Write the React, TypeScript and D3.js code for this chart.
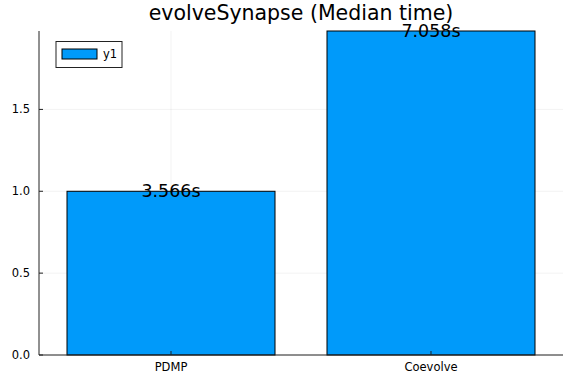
import React from "react";
import * as d3 from "d3";

const categories = ["PDMP", "Coevolve"];
const values = [1.0, 1.979];
const barLabels = ["3.566s", "7.058s"];
const yTicks = [0.0, 0.5, 1.0, 1.5];
const title = "evolveSynapse (Median time)";
const seriesName = "y1";

const W = 576;
const H = 384;
const left = 39;
const right = 563;
const top = 31;
const bottom = 355;
const blue = "#009AFA";
const axisColor = "#222";
const font = "DejaVu Sans, sans-serif";

export default function App() {
  const x = d3
    .scaleLinear()
    .domain([-0.0077, categories.length + 0.0077])
    .range([left, right]);
  const y = d3
    .scaleLinear()
    .domain([0, d3.max(values) as number])
    .range([bottom, top]);
  const bw = 0.8;

  return (
    <svg
      width={W}
      height={H}
      style={{ position: "absolute", left: 0, top: 0 }}
      fontFamily={font}
    >
      <rect width={W} height={H} fill="#fff" />
      {yTicks.map((t) => (
        <line
          key={"gy" + t}
          x1={left}
          x2={right}
          y1={y(t)}
          y2={y(t)}
          stroke="#000"
          strokeOpacity={0.1}
          strokeWidth={0.5}
        />
      ))}
      {categories.map((c, i) => (
        <line
          key={"gx" + c}
          x1={x(i + 0.5)}
          x2={x(i + 0.5)}
          y1={top}
          y2={bottom}
          stroke="#000"
          strokeOpacity={0.1}
          strokeWidth={0.5}
        />
      ))}
      {values.map((v, i) => (
        <rect
          key={"b" + i}
          x={x(i + 0.5 - bw / 2)}
          y={y(v)}
          width={x(i + 0.5 + bw / 2) - x(i + 0.5 - bw / 2)}
          height={y(0) - y(v)}
          fill={blue}
          stroke="#000"
          strokeWidth={1}
        />
      ))}
      <line x1={left} x2={left} y1={top} y2={bottom} stroke={axisColor} strokeWidth={1} />
      <line x1={left} x2={right} y1={bottom} y2={bottom} stroke={axisColor} strokeWidth={1} />
      {yTicks.map((t) => (
        <g key={"ty" + t}>
          <line x1={left} x2={left + 4} y1={y(t)} y2={y(t)} stroke={axisColor} strokeWidth={1} />
          <text
            x={left - 9}
            y={y(t)}
            dy="0.35em"
            textAnchor="end"
            fontSize={11.5}
            fill="#000"
          >
            {t.toFixed(1)}
          </text>
        </g>
      ))}
      {categories.map((c, i) => (
        <g key={"tx" + c}>
          <line
            x1={x(i + 0.5)}
            x2={x(i + 0.5)}
            y1={bottom}
            y2={bottom - 4}
            stroke={axisColor}
            strokeWidth={1}
          />
          <text x={x(i + 0.5)} y={371} textAnchor="middle" fontSize={11.5} fill="#000">
            {c}
          </text>
        </g>
      ))}
      {values.map((v, i) => (
        <text
          key={"l" + i}
          x={x(i + 0.5)}
          y={y(v)}
          dy="0.35em"
          textAnchor="middle"
          fontSize={17.5}
          fill="#000"
        >
          {barLabels[i]}
        </text>
      ))}
      <text x={(left + right) / 2} y={20} textAnchor="middle" fontSize={20.5} fill="#000">
        {title}
      </text>
      <rect x={56} y={41.5} width={66} height={26} fill="#fff" stroke={axisColor} strokeWidth={1} />
      <rect x={62} y={49} width={35} height={10} fill={blue} stroke="#000" strokeWidth={1} />
      <text x={103} y={54} dy="0.35em" fontSize={11.5} fill="#000">
        {seriesName}
      </text>
    </svg>
  );
}
